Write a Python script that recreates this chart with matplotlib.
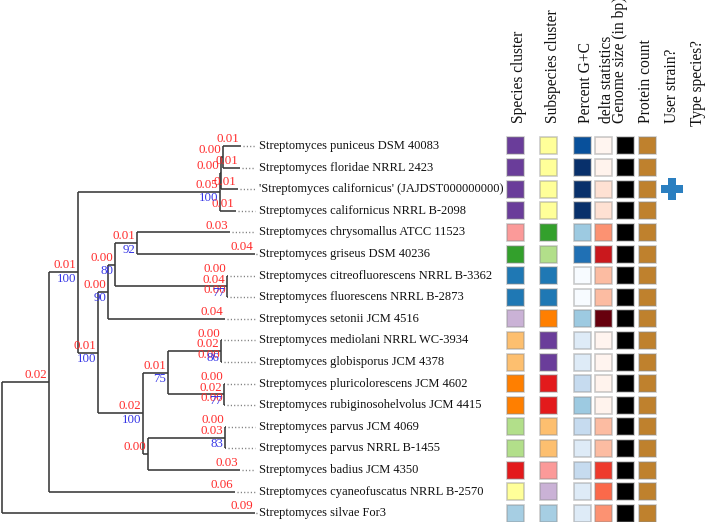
import matplotlib
matplotlib.use("Agg")
import matplotlib.pyplot as plt
from matplotlib.patches import Rectangle
from matplotlib import cm, colors

# Leaves, top to bottom
leaf_names = [
    "Streptomyces puniceus DSM 40083",
    "Streptomyces floridae NRRL 2423",
    "'Streptomyces californicus' (JAJDST000000000)",
    "Streptomyces californicus NRRL B-2098",
    "Streptomyces chrysomallus ATCC 11523",
    "Streptomyces griseus DSM 40236",
    "Streptomyces citreofluorescens NRRL B-3362",
    "Streptomyces fluorescens NRRL B-2873",
    "Streptomyces setonii JCM 4516",
    "Streptomyces mediolani NRRL WC-3934",
    "Streptomyces globisporus JCM 4378",
    "Streptomyces pluricolorescens JCM 4602",
    "Streptomyces rubiginosohelvolus JCM 4415",
    "Streptomyces parvus JCM 4069",
    "Streptomyces parvus NRRL B-1455",
    "Streptomyces badius JCM 4350",
    "Streptomyces cyaneofuscatus NRRL B-2570",
    "Streptomyces silvae For3",
]

# tree topology, leaves referenced by index; support values before ':'
newick = ("((((((0:0.0062,1:0.0060):0.0007,2:0.0060):0.0003,3:0.0055)100:0.0490,"
          "((((4:0.0321,5:0.0407)92:0.0076,(6:0.0003,7:0.0003)77:0.0386)80:0.0024,"
          "8:0.0403)90:0.0034,"
          "(((9:0.0004,10:0.0004)86:0.0183,(11:0.0004,12:0.0004)77:0.0193)75:0.0086,"
          "((13:0.0004,14:0.0004)83:0.0266,15:0.0317):0.0017)100:0.0155)100:0.0069)100:0.0100,"
          "16:0.0641):0.0162,17:0.0872)")
# leaves whose branch length label is not shown
unlabeled_leaves = [14]

# heatmap columns (Paired palette index for clusters)
species_cluster = [9, 9, 9, 9, 4, 3, 1, 1, 8, 6, 6, 7, 7, 2, 2, 5, 10, 0]
subspecies_cluster = [10, 10, 10, 10, 3, 2, 1, 1, 7, 9, 9, 5, 5, 6, 6, 4, 8, 0]
gc_percent = [72.75, 73.0, 73.0, 73.0, 71.75, 72.5, 71.0, 71.0, 71.75,
              71.25, 71.25, 71.5, 71.75, 71.5, 71.25, 71.5, 71.25, 71.25]
delta_stat = [0.140, 0.142, 0.160, 0.160, 0.200, 0.260, 0.180, 0.180, 0.300,
              0.141, 0.141, 0.142, 0.142, 0.180, 0.180, 0.240, 0.220, 0.200]
user_strain = [0, 0, 1, 0, 0, 0, 0, 0, 0, 0, 0, 0, 0, 0, 0, 0, 0, 0]

headers = ["Species cluster", "Subspecies cluster", "Percent G+C", "delta statistics",
           "Genome size (in bp)", "Protein count", "User strain?", "Type species?"]


def parse(s):
    # tiny newick parser -> nested dicts
    pos = [0]

    def node():
        n = {"children": [], "leaf": None, "support": None, "length": 0.0}
        if s[pos[0]] == "(":
            pos[0] += 1
            while True:
                n["children"].append(node())
                if s[pos[0]] == ",":
                    pos[0] += 1
                    continue
                pos[0] += 1  # ')'
                break
        tok = ""
        while pos[0] < len(s) and s[pos[0]] not in ",():":
            tok += s[pos[0]]
            pos[0] += 1
        if tok:
            if n["children"]:
                n["support"] = tok
            else:
                n["leaf"] = int(tok)
        if pos[0] < len(s) and s[pos[0]] == ":":
            pos[0] += 1
            num = ""
            while pos[0] < len(s) and s[pos[0]] not in ",()":
                num += s[pos[0]]
                pos[0] += 1
            n["length"] = float(num)
        return n

    return node()


def layout(n, x0):
    n["x"] = x0 + n["length"]
    if n["leaf"] is not None:
        n["y"] = n["leaf"]
    else:
        for c in n["children"]:
            layout(c, n["x"])
        n["y"] = (n["children"][0]["y"] + n["children"][-1]["y"]) / 2


root = parse(newick)
layout(root, 0.0)

fig = plt.figure(figsize=(7.14, 5.22), dpi=100)
PX = 2900.0  # pixels per substitution unit
ylim = (17.407, -6.759)

ax = fig.add_axes([0, 0, 1, 1])
ax.set_xlim(-2 / PX, 712 / PX)
ax.set_ylim(*ylim)
ax.axis("off")

line_kw = dict(color="#383838", lw=1.15, solid_capstyle="butt")
serif = "Liberation Serif"
name_x = 257 / PX
dots_end = 253 / PX


def draw(n):
    if n["children"]:
        ys = [c["y"] for c in n["children"]]
        ax.plot([n["x"], n["x"]], [min(ys), max(ys)], **line_kw)
        for c in n["children"]:
            ax.plot([n["x"], c["x"]], [c["y"], c["y"]], **line_kw)
            draw(c)
    if n is root:
        return
    if n["leaf"] not in unlabeled_leaves:
        ax.annotate(f"{n['length']:.2f}", (n["x"], n["y"]), xytext=(-1.2, 0.6),
                    textcoords="offset points", ha="right", va="bottom",
                    color="#ff2a2a", fontsize=9.3, family=serif)
    if n["support"]:
        ax.annotate(n["support"], (n["x"], n["y"]), xytext=(-1.2, -0.4),
                    textcoords="offset points", ha="right", va="top",
                    color="#3535e6", fontsize=9.3, family=serif)
    if n["leaf"] is not None:
        if n["x"] < dots_end:
            ax.plot([n["x"] + 2 / PX, dots_end], [n["y"], n["y"]], color="#7a7a7a",
                    lw=1.0, linestyle=(0, (0.8, 1.6)))
        ax.text(name_x, n["y"], leaf_names[n["leaf"]], ha="left", va="center",
                fontsize=9.0, family=serif, color="#111111")


draw(root)

# heatmap panel in pixel x coordinates
hx = fig.add_axes([0, 0, 1, 1])
hx.patch.set_alpha(0)
hx.set_xlim(0, 714)
hx.set_ylim(*ylim)
hx.axis("off")

col_x = [515.5, 548.5, 582, 603.5, 625, 647.5, 672, 697]
head_x = [519, 553, 586, 607, 620, 646, 672, 698]
cell = 17.0
cell_h = cell / 21.6

paired = plt.get_cmap("Paired")
gc_norm = colors.Normalize(71.0, 73.0)
dl_norm = colors.Normalize(0.14, 0.30)
columns = [
    [paired(v) for v in species_cluster],
    [paired(v) for v in subspecies_cluster],
    [cm.Blues(gc_norm(v)) for v in gc_percent],
    [cm.Reds(dl_norm(v)) for v in delta_stat],
    ["#000000"] * len(leaf_names),
    ["#bf812d"] * len(leaf_names),
]

for ci, cols in enumerate(columns):
    for i, c in enumerate(cols):
        hx.add_patch(Rectangle((col_x[ci] - cell / 2, i - cell_h / 2), cell, cell_h,
                               facecolor=c, edgecolor=(0.55, 0.55, 0.55, 0.45), lw=1.2))

for i, u in enumerate(user_strain):
    if u:
        hx.plot(col_x[6], i, marker="P", markersize=15.5, color="#2b7fc0",
                markeredgewidth=0)

for hxp, h in zip(head_x, headers):
    ytop = (126 - 146) / 21.6 if h.startswith("Type") else (123 - 146) / 21.6
    hx.text(hxp, ytop, h, rotation=90, ha="center", va="bottom",
            fontsize=11.2, family=serif, color="#111111")

fig.savefig("out.png", dpi=100)
